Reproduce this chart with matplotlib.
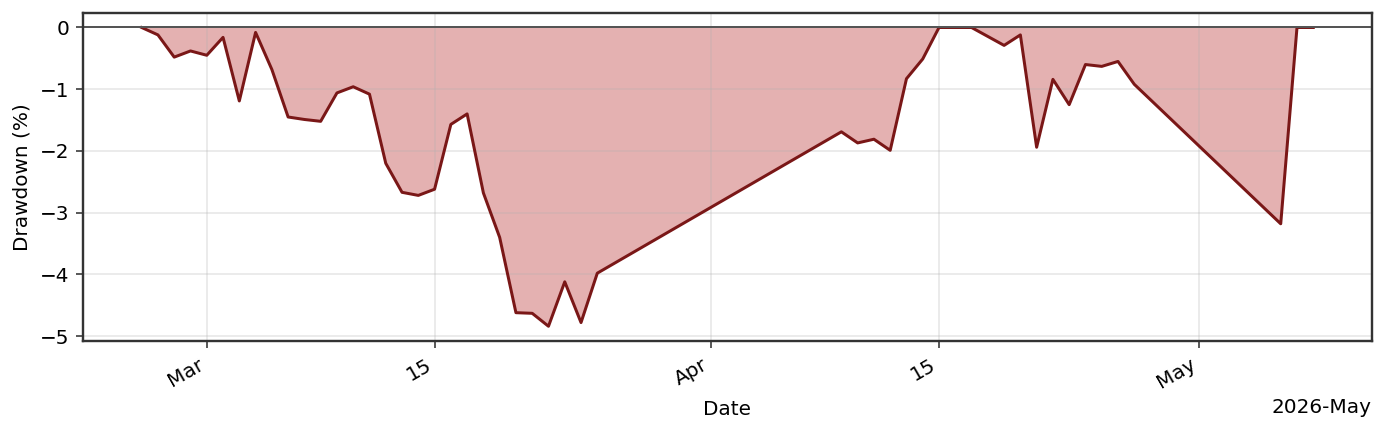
import numpy as np
import pandas as pd
import matplotlib
matplotlib.use("Agg")
import matplotlib.pyplot as plt
import matplotlib.dates as mdates

# drawdown series (percent)
dates = pd.to_datetime([
    "2026-02-25", "2026-02-26", "2026-02-27", "2026-02-28", "2026-03-01",
    "2026-03-02", "2026-03-03", "2026-03-04", "2026-03-05", "2026-03-06",
    "2026-03-07", "2026-03-08", "2026-03-09", "2026-03-10", "2026-03-11",
    "2026-03-12", "2026-03-13", "2026-03-14", "2026-03-15", "2026-03-16",
    "2026-03-17", "2026-03-18", "2026-03-19", "2026-03-20", "2026-03-21",
    "2026-03-22", "2026-03-23", "2026-03-24", "2026-03-25",
    "2026-04-09", "2026-04-10", "2026-04-11", "2026-04-12", "2026-04-13",
    "2026-04-14", "2026-04-15", "2026-04-16", "2026-04-17",
    "2026-04-19", "2026-04-20", "2026-04-21", "2026-04-22", "2026-04-23",
    "2026-04-24", "2026-04-25", "2026-04-26", "2026-04-27",
    "2026-05-06", "2026-05-07", "2026-05-08",
])
drawdown = np.array([
    0.0, -0.12, -0.48, -0.38, -0.45,
    -0.16, -1.19, -0.08, -0.68, -1.45,
    -1.49, -1.52, -1.06, -0.96, -1.08,
    -2.20, -2.67, -2.72, -2.62, -1.57,
    -1.40, -2.68, -3.40, -4.62, -4.63,
    -4.84, -4.12, -4.78, -3.98,
    -1.69, -1.87, -1.81, -1.99, -0.83,
    -0.51, 0.0, 0.0, 0.0,
    -0.29, -0.12, -1.94, -0.84, -1.25,
    -0.60, -0.63, -0.55, -0.92,
    -3.18, 0.0, 0.0,
])

line_color = "#7a1717"
fill_color = "#b22222"

fig = plt.figure(figsize=(1385 / 144, 433 / 144), dpi=144)
ax = fig.add_axes([0.0600, 0.2120, 0.9305, 0.7590])

ax.fill_between(dates, drawdown, 0, color=fill_color, alpha=0.35, linewidth=0)
ax.plot(dates, drawdown, color=line_color, linewidth=1.5)
ax.axhline(0, color="#555555", linewidth=1.0)

# grid sits above the fill but under the line (default zorder)
ax.grid(True, alpha=0.3)

locator = mdates.AutoDateLocator()
ax.xaxis.set_major_locator(locator)
ax.xaxis.set_major_formatter(mdates.ConciseDateFormatter(locator))
for lbl in ax.get_xticklabels():
    lbl.set_rotation(30)
    lbl.set_ha("right")

for sp in ax.spines.values():
    sp.set_color("#333333")
    sp.set_linewidth(1.2)
ax.tick_params(color="#333333", labelsize=10)

ax.set_xlabel("Date", fontsize=10)
ax.set_ylabel("Drawdown (%)", fontsize=10)

fig.savefig("out.png", dpi=144)
